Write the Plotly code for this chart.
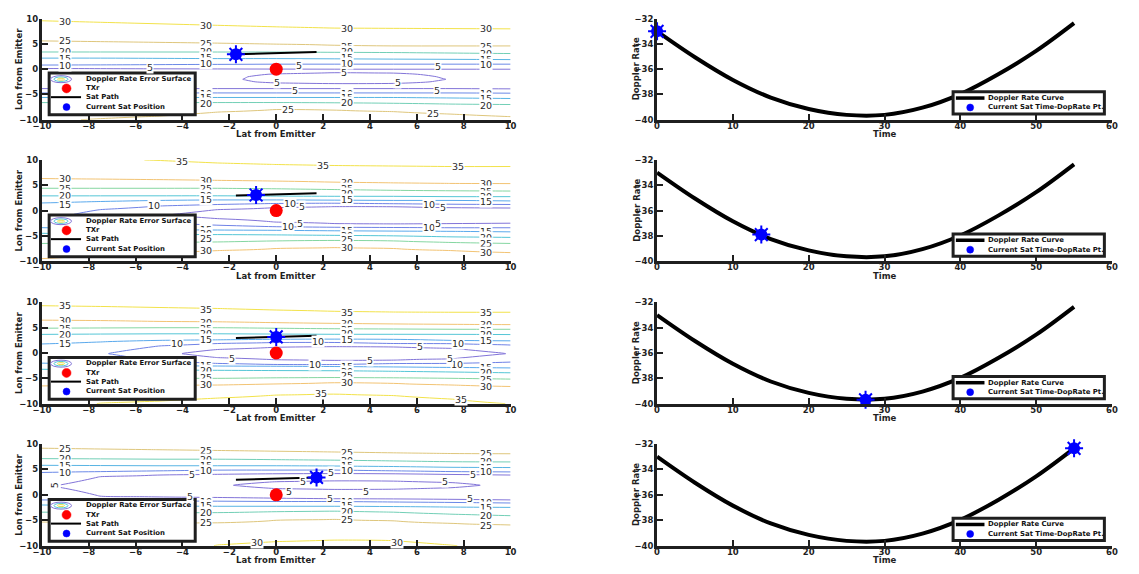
import numpy as np
import plotly.graph_objects as go

W, H = 1139, 574
FONT = "DejaVu Sans"
AX_COLOR = "#1f1f1f"

# ---------------- data ----------------
# Doppler-rate error surface: per x-column, (lon, error) anchor points
SURF_X = [-10, -7.5, -5, -2.5, 0, 2.5, 5, 7.5, 10]

SURF1_COLS = [
    [(-10, 24.4), (-6.6, 20), (-5.6, 15), (-4.7, 10), (-3.85, 5), (-3.5, 3.6), (-2, 3.9), (-0.5, 3.5), (0.15, 5), (0.8, 10), (2.2, 15), (3.4, 20), (5.6, 25), (9.6, 30), (10, 30.5)],
    [(-10, 25.3), (-9.8, 25), (-6.6, 20), (-5.6, 15), (-4.7, 10), (-3.85, 5), (-3.5, 3.6), (-2, 3.9), (-0.5, 3.5), (0.12, 5), (0.85, 10), (2.2, 15), (3.4, 20), (5.45, 25), (9.3, 30), (10, 30.9)],
    [(-10, 26.3), (-9.3, 25), (-6.6, 20), (-5.6, 15), (-4.7, 10), (-3.85, 5), (-3.5, 3.6), (-2, 4.0), (-0.5, 3.5), (0.1, 5), (0.9, 10), (2.15, 15), (3.4, 20), (5.3, 25), (9.0, 30), (10, 31.35)],
    [(-10, 27.5), (-8.5, 25), (-6.6, 20), (-5.6, 15), (-4.7, 10), (-3.85, 5), (-3.5, 3.6), (-2, 4.1), (-0.5, 3.6), (0.08, 5), (0.95, 10), (2.1, 15), (3.4, 20), (5.15, 25), (8.7, 30), (10, 31.8)],
    [(-10, 28.5), (-9, 27), (-8, 25), (-6.6, 20), (-5.6, 15), (-4.7, 10), (-3.85, 5), (-3.5, 3.5), (-3, 4.2), (-2.5, 5.6), (-2, 6.2), (-1.5, 6.0), (-1, 5.2), (-0.5, 3.8), (0.05, 5), (1.0, 10), (2.1, 15), (3.4, 20), (4.95, 25), (8.4, 30), (10, 32.3)],
    [(-10, 28.2), (-8.1, 25), (-6.65, 20), (-5.6, 15), (-4.7, 10), (-3.85, 5), (-3.5, 3.6), (-3, 4.5), (-2.5, 6.2), (-2, 7.0), (-1.5, 6.8), (-1, 5.8), (-0.5, 4.5), (0.03, 5), (1.0, 10), (2.05, 15), (3.35, 20), (4.75, 25), (8.15, 30), (10, 32.5)],
    [(-10, 27.8), (-8.4, 25), (-6.75, 20), (-5.6, 15), (-4.7, 10), (-3.85, 5), (-3.5, 3.6), (-3, 4.4), (-2.5, 6.0), (-2, 6.7), (-1.5, 6.5), (-1, 5.6), (-0.5, 4.3), (0.0, 5), (1.0, 10), (2.0, 15), (3.3, 20), (4.6, 25), (8.1, 30), (10, 32.7)],
    [(-10, 27.0), (-8.9, 25), (-6.9, 20), (-5.7, 15), (-4.7, 10), (-3.85, 5), (-3.5, 3.6), (-2, 4.8), (-0.5, 3.8), (0.0, 5), (1.0, 10), (1.95, 15), (3.2, 20), (4.6, 25), (8.05, 30), (10, 32.8)],
    [(-10, 26.2), (-9.4, 25), (-7.0, 20), (-5.8, 15), (-4.75, 10), (-3.9, 5), (-3.5, 3.6), (-2, 4.0), (-0.5, 3.5), (0.0, 5), (1.0, 10), (1.9, 15), (3.1, 20), (4.6, 25), (8.0, 30), (10, 32.9)],
]

SURF2_COLS = [
    [(-10, 30.6), (-9.5, 30), (-6.5, 25), (-4.5, 20), (-3.4, 15), (-1, 12), (1.5, 15), (2.9, 20), (4.4, 25), (6.3, 30), (10, 34.0)],
    [(-10, 31.5), (-8.8, 30), (-6.4, 25), (-4.6, 20), (-3.6, 15), (-1.8, 10), (-0.8, 8), (0.2, 10), (1.8, 15), (2.9, 20), (4.4, 25), (6.2, 30), (10, 34.7)],
    [(-10, 32.5), (-8.3, 30), (-6.3, 25), (-4.7, 20), (-3.8, 15), (-2.4, 10), (-0.9, 5.4), (0.9, 10), (2.0, 15), (2.9, 20), (4.4, 25), (6.1, 30), (9.9, 35), (10, 35.1)],
    [(-10, 33.2), (-7.9, 30), (-6.2, 25), (-4.75, 20), (-3.85, 15), (-2.9, 10), (-1.6, 5), (-0.8, 2.5), (0.2, 5), (1.2, 10), (2.1, 15), (2.9, 20), (4.4, 25), (5.95, 30), (9.4, 35), (10, 35.8)],
    [(-10, 33.8), (-7.5, 30), (-6.0, 25), (-4.8, 20), (-3.9, 15), (-3.2, 10), (-2.3, 5), (-0.8, 1.5), (0.6, 5), (1.4, 10), (2.1, 15), (2.85, 20), (4.3, 25), (5.8, 30), (9.1, 35), (10, 36.3)],
    [(-10, 34.0), (-7.3, 30), (-5.9, 25), (-4.9, 20), (-4.0, 15), (-3.3, 10), (-2.6, 5), (-0.9, 1.2), (0.8, 5), (1.45, 10), (2.05, 15), (2.8, 20), (4.15, 25), (5.6, 30), (8.9, 35), (10, 36.6)],
    [(-10, 33.8), (-7.5, 30), (-6.0, 25), (-5.0, 20), (-4.05, 15), (-3.35, 10), (-2.65, 5), (-0.95, 1.2), (0.75, 5), (1.35, 10), (2.0, 15), (2.8, 20), (4.0, 25), (5.45, 30), (8.8, 35), (10, 36.7)],
    [(-10, 33.4), (-7.9, 30), (-6.3, 25), (-5.2, 20), (-4.1, 15), (-3.4, 10), (-2.6, 5), (-1.0, 1.5), (0.6, 5), (1.25, 10), (2.0, 15), (2.75, 20), (3.9, 25), (5.35, 30), (8.7, 35), (10, 36.8)],
    [(-10, 32.8), (-8.3, 30), (-6.5, 25), (-5.3, 20), (-4.2, 15), (-3.4, 10), (-2.5, 5), (-1.0, 2.0), (0.5, 5), (1.2, 10), (1.9, 15), (2.75, 20), (3.85, 25), (5.3, 30), (8.7, 35), (10, 36.8)],
]

SURF3_COLS = [
    [(-10, 33.5), (-6.5, 30), (-4.9, 25), (-3.2, 20), (-2.0, 15), (-0.1, 11), (1.8, 15), (3.7, 20), (4.9, 25), (6.5, 30), (9.35, 35), (10, 36)],
    [(-10, 35.1), (-9.9, 35), (-6.4, 30), (-4.95, 25), (-3.3, 20), (-2.3, 15), (-0.1, 10.5), (2.2, 15), (3.75, 20), (4.95, 25), (6.4, 30), (9.2, 35), (10, 36.3)],
    [(-10, 35.8), (-9.5, 35), (-6.35, 30), (-5.0, 25), (-3.35, 20), (-2.5, 15), (-1.6, 10), (-0.1, 6.5), (1.4, 10), (2.5, 15), (3.8, 20), (5.0, 25), (6.25, 30), (9.0, 35), (10, 36.6)],
    [(-10, 36.8), (-8.9, 35), (-6.3, 30), (-5.0, 25), (-3.4, 20), (-2.55, 15), (-2.08, 10), (-0.91, 5), (-0.1, 2.5), (0.71, 5), (1.88, 10), (2.6, 15), (3.8, 20), (5.0, 25), (6.15, 30), (8.8, 35), (10, 37)],
    [(-10, 37.4), (-8.3, 35), (-6.1, 30), (-4.9, 25), (-3.45, 20), (-2.6, 15), (-2.28, 10), (-1.34, 5), (-0.1, 1), (1.14, 5), (2.08, 10), (2.7, 15), (3.75, 20), (4.9, 25), (6.0, 30), (8.5, 35), (10, 37.8)],
    [(-10, 37.5), (-8.1, 35), (-5.85, 30), (-4.85, 25), (-3.5, 20), (-2.65, 15), (-2.29, 10), (-1.47, 5), (-0.1, 1), (1.27, 5), (2.09, 10), (2.75, 15), (3.7, 20), (4.8, 25), (5.85, 30), (8.25, 35), (10, 38)],
    [(-10, 37.2), (-8.4, 35), (-6.0, 30), (-4.9, 25), (-3.6, 20), (-2.75, 15), (-2.08, 10), (-1.42, 5), (-0.1, 1), (1.22, 5), (1.88, 10), (2.7, 15), (3.7, 20), (4.75, 25), (5.75, 30), (8.1, 35), (10, 38)],
    [(-10, 36.0), (-9.1, 35), (-6.3, 30), (-5.0, 25), (-3.75, 20), (-2.85, 15), (-2.05, 10), (-1.13, 5), (-0.1, 2.0), (0.93, 5), (1.85, 10), (2.5, 15), (3.7, 20), (4.7, 25), (5.65, 30), (8.05, 35), (10, 38)],
    [(-10, 34.9), (-6.6, 30), (-5.15, 25), (-3.9, 20), (-2.95, 15), (-1.8, 10), (-0.1, 5.2), (1.6, 10), (2.4, 15), (3.65, 20), (4.7, 25), (5.6, 30), (8.05, 35), (10, 38)],
]

SURF4_COLS = [
    [(-10, 27), (-5.3, 25), (-3.4, 20), (-2.0, 15), (-1.0, 10), (1.7, 5.6), (4.4, 10), (5.8, 15), (7.1, 20), (9.15, 25), (10, 26.5)],
    [(-10, 27.5), (-5.4, 25), (-3.45, 20), (-2.1, 15), (-1.1, 10), (-0.3, 5), (1.7, 2.5), (3.6, 5), (4.55, 10), (5.75, 15), (7.05, 20), (9.0, 25), (10, 26.8)],
    [(-10, 28.5), (-5.5, 25), (-3.5, 20), (-2.2, 15), (-1.2, 10), (-0.45, 5), (0.5, 3), (1.9, 4.2), (3.1, 3), (3.9, 5), (4.7, 10), (5.7, 15), (7.0, 20), (8.85, 25), (10, 27.2)],
    [(-10, 30.1), (-9.85, 30), (-5.5, 25), (-3.5, 20), (-2.25, 15), (-1.25, 10), (-0.55, 5), (0.4, 3), (1.9, 4.6), (3.3, 3), (4.05, 5), (4.85, 10), (5.7, 15), (7.0, 20), (8.7, 25), (10, 27.5)],
    [(-10, 31), (-9.2, 30), (-5.0, 25), (-3.3, 20), (-2.25, 15), (-1.3, 10), (-0.7, 5), (0.3, 3), (1.22, 5), (1.9, 6.2), (2.58, 5), (3.4, 3), (4.15, 5), (4.85, 10), (5.7, 15), (6.9, 20), (8.55, 25), (10, 27.8)],
    [(-10, 31.3), (-8.9, 30), (-4.8, 25), (-3.2, 20), (-2.25, 15), (-1.3, 10), (-0.8, 5), (0.2, 3), (1.06, 5), (1.9, 6.8), (2.74, 5), (3.5, 3), (4.2, 5), (4.85, 10), (5.65, 15), (6.8, 20), (8.4, 25), (10, 28)],
    [(-10, 31.2), (-9.0, 30), (-5.1, 25), (-3.4, 20), (-2.3, 15), (-1.4, 10), (-0.85, 5), (0.2, 3), (1.1, 5), (1.9, 6.6), (2.7, 5), (3.45, 3), (4.15, 5), (4.7, 10), (5.55, 15), (6.65, 20), (8.25, 25), (10, 28.2)],
    [(-10, 30.1), (-9.9, 30), (-5.6, 25), (-3.8, 20), (-2.4, 15), (-1.5, 10), (-0.9, 5), (0.3, 3), (1.4, 5), (1.9, 5.8), (2.4, 5), (3.3, 3), (4.0, 5), (4.55, 10), (5.4, 15), (6.5, 20), (8.1, 25), (10, 28.4)],
    [(-10, 29), (-5.9, 25), (-4.1, 20), (-2.45, 15), (-1.6, 10), (-1.0, 5), (0.4, 3), (1.9, 4.2), (3.2, 3), (3.9, 5), (4.5, 10), (5.35, 15), (6.45, 20), (8.05, 25), (10, 28.5)],
]

SURF_COLS = [SURF1_COLS, SURF2_COLS, SURF3_COLS, SURF4_COLS]
SURF_TOP_LEVEL = [30, 35, 35, 30]

# contour level labels as they sit in the picture: (lat, lon, level)
CLAB1 = [(-9.0, 9.5, 30), (-9.0, 5.6, 25), (-9.0, 3.45, 20), (-9.0, 2.2, 15), (-9.0, 0.7, 10),
         (-3.0, 8.7, 30), (-3.0, 5.1, 25), (-3.0, 3.45, 20), (-3.0, 2.3, 15), (-3.0, 1.2, 10),
         (-3.0, -4.8, 10), (-3.0, -5.65, 15), (-3.0, -6.75, 20),
         (3.0, 8.05, 30), (3.0, 4.6, 25), (3.0, 3.45, 20), (3.0, 2.3, 15), (3.0, 1.2, 10),
         (3.0, -4.8, 10), (3.0, -5.6, 15), (3.0, -6.55, 20),
         (8.95, 8.05, 30), (8.95, 4.6, 25), (8.95, 3.1, 20), (8.95, 2.0, 15), (8.95, 0.9, 10),
         (8.95, -4.9, 10), (8.95, -5.8, 15), (8.95, -7.1, 20),
         (-5.37, 0.4, 5), (0.95, 0.7, 5), (6.9, 0.5, 5), (2.9, -0.6, 5), (0.04, -2.65, 5), (5.2, -2.65, 5),
         (0.8, -4.15, 5), (6.85, -4.3, 5), (0.5, -8.05, 25), (6.7, -8.7, 25)]
CLAB2 = [(-9.0, 6.3, 30), (-9.0, 4.35, 25), (-9.0, 2.9, 20), (-9.0, 1.25, 15),
         (-4.0, 9.75, 35), (-3.0, 6.0, 30), (-3.0, 4.35, 25), (-3.0, 2.9, 20), (-3.0, 2.1, 15),
         (-3.0, -3.7, 15), (-3.0, -4.6, 20), (-3.0, -5.5, 25), (-3.0, -7.8, 30),
         (2.0, 8.9, 35), (3.0, 5.5, 30), (3.0, 4.3, 25), (3.0, 3.3, 20), (3.0, 2.1, 15),
         (3.0, -4.0, 15), (3.0, -4.9, 20), (3.0, -5.8, 25), (3.0, -7.3, 30),
         (7.75, 8.7, 35), (8.95, 5.3, 30), (8.95, 3.85, 25), (8.95, 2.75, 20), (8.95, 1.8, 15),
         (8.95, -4.2, 15), (8.95, -5.35, 20), (8.95, -6.5, 25), (8.95, -8.25, 30),
         (-5.2, 0.95, 10), (0.6, 1.3, 10), (1.1, 0.8, 5), (6.5, 1.25, 10), (7.1, 0.6, 5),
         (0.5, -3.2, 10), (1.0, -2.6, 5), (6.5, -3.4, 10), (6.9, -2.55, 5)]
CLAB3 = [(-9.0, 9.35, 35), (-9.0, 6.5, 30), (-9.0, 4.9, 25), (-9.0, 3.7, 20), (-9.0, 1.8, 15),
         (-3.0, 8.7, 35), (-3.0, 6.1, 30), (-3.0, 4.8, 25), (-3.0, 3.85, 20), (-3.0, 2.6, 15),
         (-3.0, -2.55, 15), (-3.0, -3.4, 20), (-3.0, -4.8, 25), (-3.0, -6.3, 30),
         (3.0, 8.1, 35), (3.0, 5.8, 30), (3.0, 4.7, 25), (3.0, 3.85, 20), (3.0, 2.75, 15),
         (3.0, -2.75, 15), (3.0, -3.6, 20), (3.0, -4.4, 25), (3.0, -5.8, 30),
         (8.95, 8.05, 35), (8.95, 5.65, 30), (8.95, 4.5, 25), (8.95, 3.7, 20), (8.95, 2.4, 15),
         (8.95, -2.95, 15), (8.95, -3.9, 20), (8.95, -5.15, 25), (8.95, -6.6, 30),
         (-4.25, 1.8, 10), (1.8, 2.3, 10), (7.75, 1.9, 10), (1.65, -2.2, 10), (7.7, -2.2, 10),
         (-1.9, -1.13, 5), (4.0, -1.45, 5), (7.4, -1.1, 5), (6.15, 1.25, 5),
         (1.9, -8.05, 35), (7.9, -9.2, 35)]
CLAB4 = [(-9.0, 9.15, 25), (-9.0, 7.1, 20), (-9.0, 5.8, 15), (-9.0, 4.4, 10),
         (-3.0, 8.7, 25), (-3.0, 7.0, 20), (-3.0, 5.8, 15), (-3.0, 4.85, 10),
         (-3.0, -1.3, 10), (-3.0, -2.05, 15), (-3.0, -3.55, 20), (-3.0, -5.5, 25),
         (3.0, 8.4, 25), (3.0, 6.8, 20), (3.0, 5.7, 15), (3.0, 4.85, 10),
         (3.0, -1.3, 10), (3.0, -2.05, 15), (3.0, -3.2, 20), (3.0, -4.85, 25),
         (8.95, 8.05, 25), (8.95, 6.45, 20), (8.95, 5.35, 15), (8.95, 4.5, 10),
         (8.95, -1.6, 10), (8.95, -2.45, 15), (8.95, -4.05, 20), (8.95, -5.95, 25),
         (-3.6, 4.06, 5), (2.35, 4.3, 5), (8.4, 4.06, 5), (7.2, 2.56, 5), (1.15, 2.56, 5),
         (0.53, 0.62, 5), (3.83, 0.62, 5), (-3.7, -0.35, 5), (2.3, -0.68, 5), (8.25, -0.8, 5),
         (-0.8, -9.35, 30), (5.15, -9.35, 30)]
CLAB4_ROTATED = [(-9.45, 1.85, 5)]
CLABS = [CLAB1, CLAB2, CLAB3, CLAB4]

TX_LAT = [0.0]
TX_LON = [0.0]
SAT_PATH_LAT = [-1.72, 1.72]
SAT_PATH_LON = [2.95, 3.42]
SAT_LAT = [-1.72, -0.86, 0.0, 1.72]
SAT_LON = [2.95, 3.07, 3.18, 3.42]

TIME = [0, 5, 10, 15, 20, 25, 30, 35, 40, 45, 50, 55]
DOP_RATE = [-33.0, -35.05, -36.85, -38.25, -39.15, -39.62, -39.62, -39.05, -37.97, -36.4, -34.55, -32.35]
SAT_TIME = [0.0, 13.75, 27.5, 55.0]
SAT_DOP = [-33.0, -37.9, -39.7, -32.35]

# ---------------- layout geometry (pixels) ----------------
LEFT_PX = (33.3, 508.3)
RIGHT_PX = (656.7, 1117.7)
ROWS_PX = [(14.0, 116.7), (157.7, 260.7), (302.7, 405.7), (446.7, 550.3)]
LLEG_TOP = [69.3, 213.8, 358.8, 503.3]
RLEG_TOP = [88.3, 233.0, 378.0, 522.3]

CSCALE = [[0.0, "#8274d8"], [0.17, "#6f82e6"], [0.33, "#5aa8ec"], [0.5, "#55c6d6"],
          [0.67, "#86d6a0"], [0.83, "#f2c274"], [1.0, "#f2e24a"]]


def px_x(p):
    return p / W


def px_y(p):
    return 1 - p / H


lat_grid = np.linspace(-10, 10, 161)

fig = go.Figure()
layout = dict(width=W, height=H, margin=dict(l=0, r=0, t=0, b=0),
              paper_bgcolor="white", plot_bgcolor="white", showlegend=False)
label_annotations = []
annotations = []
shapes = []

common_axis = dict(showline=True, linewidth=3, linecolor=AX_COLOR, ticks="inside", ticklen=6,
                   tickwidth=2, tickcolor=AX_COLOR, showgrid=False, zeroline=False, mirror=False,
                   tickfont=dict(family=FONT, size=8.5, color=AX_COLOR, weight="bold"),
                   fixedrange=True)

title_font = dict(family=FONT, size=8.5, color=AX_COLOR, weight="bold")
leg_font = dict(family=FONT, size=6.9, color="#111111", weight="bold")
clab_font = dict(family=FONT, size=9.5, color="#2b2b2b")


def add_dot(cx, cy, d, color):
    shapes.append(dict(type="circle", xref="paper", yref="paper", xsizemode="pixel", ysizemode="pixel",
                       xanchor=px_x(cx), yanchor=px_y(cy), x0=-d / 2, x1=d / 2, y0=-d / 2, y1=d / 2,
                       fillcolor=color, line=dict(color=color, width=0.5)))


def add_ellipse(cx, cy, w, h, color):
    shapes.append(dict(type="circle", xref="paper", yref="paper", xsizemode="pixel", ysizemode="pixel",
                       xanchor=px_x(cx), yanchor=px_y(cy), x0=-w / 2, x1=w / 2, y0=-h / 2, y1=h / 2,
                       line=dict(color=color, width=1)))


def add_text(x, y, text, font, xanchor="left", textangle=0):
    annotations.append(dict(x=px_x(x), y=px_y(y), xref="paper", yref="paper", text=text,
                            showarrow=False, xanchor=xanchor, yanchor="middle", font=font,
                            textangle=textangle))


for r in range(4):
    top_px, bot_px = ROWS_PX[r]
    ydom = [px_y(bot_px), px_y(top_px)]
    li, ri = 2 * r + 1, 2 * r + 2
    xl = "x" if li == 1 else f"x{li}"
    yl = "y" if li == 1 else f"y{li}"
    xr, yr = f"x{ri}", f"y{ri}"

    # ---- contour surface ----
    cols = SURF_COLS[r]
    zcols = []
    for col in cols:
        ay = [p[0] for p in col]
        az = [p[1] for p in col]
        zcols.append(np.interp(lat_grid, ay, az))
    z = np.array(zcols).T
    top = SURF_TOP_LEVEL[r]
    fig.add_trace(go.Contour(
        x=SURF_X, y=lat_grid, z=z, xaxis=xl, yaxis=yl,
        contours=dict(start=5, end=top, size=5, coloring="lines", showlabels=False),
        line=dict(width=1, smoothing=1.0), colorscale=CSCALE, zmin=5, zmax=top, zauto=False,
        showscale=False, hoverinfo="skip", name="Doppler Rate Error Surface"))

    # contour level labels (text masking the line behind it)
    for (lx, ly, lv) in CLABS[r]:
        label_annotations.append(dict(x=lx, y=ly, xref=xl, yref=yl, text=str(lv), showarrow=False,
                                      font=clab_font, bgcolor="white", borderpad=0,
                                      xanchor="center", yanchor="middle"))
    if r == 3:
        for (lx, ly, lv) in CLAB4_ROTATED:
            label_annotations.append(dict(x=lx, y=ly, xref=xl, yref=yl, text=str(lv), showarrow=False,
                                          font=clab_font, bgcolor="white", borderpad=0, textangle=-90,
                                          xanchor="center", yanchor="middle"))

    fig.add_trace(go.Scatter(x=SAT_PATH_LAT, y=SAT_PATH_LON, xaxis=xl, yaxis=yl, mode="lines",
                             line=dict(color="black", width=2), name="Sat Path"))
    fig.add_trace(go.Scatter(x=TX_LAT, y=TX_LON, xaxis=xl, yaxis=yl, mode="markers",
                             marker=dict(color="#ff0000", size=13), name="TXr"))
    fig.add_trace(go.Scatter(x=[SAT_LAT[r]], y=[SAT_LON[r]], xaxis=xl, yaxis=yl, mode="markers",
                             marker=dict(color="#0000ff", size=12), cliponaxis=False,
                             name="Current Sat Position"))
    fig.add_trace(go.Scatter(x=[SAT_LAT[r]], y=[SAT_LON[r]], xaxis=xl, yaxis=yl, mode="markers",
                             marker=dict(symbol="asterisk", size=15, line=dict(color="#0000ff", width=2)),
                             cliponaxis=False, hoverinfo="skip"))

    # ---- doppler rate curve ----
    fig.add_trace(go.Scatter(x=TIME, y=DOP_RATE, xaxis=xr, yaxis=yr, mode="lines",
                             line=dict(color="black", width=4, shape="spline"), name="Doppler Rate Curve"))
    fig.add_trace(go.Scatter(x=[SAT_TIME[r]], y=[SAT_DOP[r]], xaxis=xr, yaxis=yr, mode="markers",
                             marker=dict(color="#0000ff", size=12), cliponaxis=False,
                             name="Current Sat Time-DopRate Pt."))
    fig.add_trace(go.Scatter(x=[SAT_TIME[r]], y=[SAT_DOP[r]], xaxis=xr, yaxis=yr, mode="markers",
                             marker=dict(symbol="asterisk", size=15, line=dict(color="#0000ff", width=2)),
                             cliponaxis=False, hoverinfo="skip"))

    kxl = "xaxis" if li == 1 else f"xaxis{li}"
    kyl = "yaxis" if li == 1 else f"yaxis{li}"
    layout[kxl] = dict(common_axis, domain=[px_x(LEFT_PX[0]), px_x(LEFT_PX[1])], range=[-10, 10],
                       dtick=2, tick0=-10, anchor=yl, ticklabelstandoff=-4)
    layout[kyl] = dict(common_axis, domain=ydom, range=[-10, 10], dtick=5, tick0=-10, anchor=xl,
                       ticklabelstandoff=-1)
    layout[f"xaxis{ri}"] = dict(common_axis, domain=[px_x(RIGHT_PX[0]), px_x(RIGHT_PX[1])],
                                range=[0, 60], dtick=10, tick0=0, anchor=yr, ticklabelstandoff=-4)
    layout[f"yaxis{ri}"] = dict(common_axis, domain=ydom, range=[-40, -32], dtick=2, tick0=-40,
                                anchor=xr, ticklabelstandoff=-1)

    # ---- axis titles ----
    add_text((LEFT_PX[0] + LEFT_PX[1]) / 2, bot_px + 15.0, "Lat from Emitter", title_font, "center")
    add_text((RIGHT_PX[0] + RIGHT_PX[1]) / 2, bot_px + 15.0, "Time", title_font, "center")
    add_text(10, (top_px + bot_px) / 2, "Lon from Emitter", title_font, "center", -90)
    add_text(635.5, (top_px + bot_px) / 2, "Doppler Rate", title_font, "center", -90)

    # ---- left legend ----
    t = LLEG_TOP[r]
    shapes.append(dict(type="rect", xref="paper", yref="paper", x0=px_x(40.7), x1=px_x(188.7),
                       y0=px_y(t + 42.4), y1=px_y(t), fillcolor="white",
                       line=dict(color=AX_COLOR, width=3)))
    add_ellipse(52.7, t + 6.2, 21, 7, "#8274d8")
    add_ellipse(52.7, t + 6.2, 14, 4.5, "#55c6d6")
    add_ellipse(52.7, t + 6.2, 7, 2, "#e8e04a")
    add_dot(58.3, t + 15.6, 9, "#ff0000")
    shapes.append(dict(type="line", xref="paper", yref="paper", x0=px_x(42.5), x1=px_x(73),
                       y0=px_y(t + 24.5), y1=px_y(t + 24.5), line=dict(color="black", width=2)))
    add_dot(58.3, t + 34.6, 7, "#0000ff")
    for k, lab in enumerate(["Doppler Rate Error Surface", "TXr", "Sat Path", "Current Sat Position"]):
        add_text(75.5, t + 6.0 + k * 9.4, lab, leg_font)

    # ---- right legend ----
    t = RLEG_TOP[r]
    shapes.append(dict(type="rect", xref="paper", yref="paper", x0=px_x(956.7), x1=px_x(1110),
                       y0=px_y(t + 22.7), y1=px_y(t), fillcolor="white",
                       line=dict(color=AX_COLOR, width=3)))
    shapes.append(dict(type="line", xref="paper", yref="paper", x0=px_x(959.5), x1=px_x(988.5),
                       y0=px_y(t + 6.4), y1=px_y(t + 6.4), line=dict(color="black", width=3.5)))
    add_dot(974, t + 16.0, 7, "#0000ff")
    add_text(990.0, t + 6.4, "Doppler Rate Curve", leg_font)
    add_text(990.0, t + 16.0, "Current Sat Time-DopRate Pt.", leg_font)

layout["annotations"] = label_annotations + annotations
layout["shapes"] = shapes
fig.update_layout(**layout)
fig.write_html("out.html",
               post_script="document.body.style.margin='0px';document.body.style.overflow='hidden';")
